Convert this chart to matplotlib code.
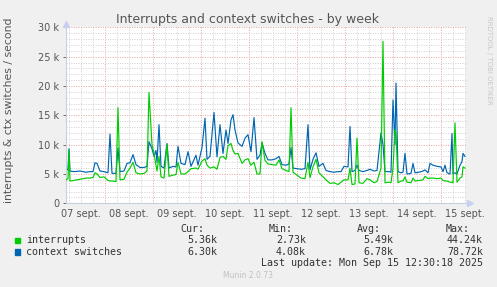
import matplotlib
matplotlib.use('Agg')
import matplotlib.pyplot as plt

# hours since 07 sept. 00:00
hours = [4.5, 5.5, 6, 6.5, 8.5, 11.5, 14.5, 16.5, 18, 19, 20, 21.5, 23.5, 25.5, 26.5, 27.5,
         29.5, 30.5, 31.5, 33.5, 35, 36.5, 38, 39.5, 41.5, 43.5, 45, 46, 47.5, 48.5, 49.5, 50,
         51, 52, 53.5, 55, 56, 58, 59.5, 60.5, 62, 64, 65.5, 67, 69.5, 70.5, 72.5, 74, 75,
         76.5, 78.5, 80, 81.5, 83, 84.5, 85.5, 87, 88, 89, 90.5, 92.5, 94, 95.5, 97, 98.5,
         100, 101.5, 102.5, 104, 105.5, 107.5, 109.5, 111, 112.5, 114.5, 116, 117, 118, 120,
         122, 124, 125.5, 126.5, 128, 129.5, 131, 133, 134.5, 136.5, 138.5, 140.5, 142, 143.5,
         145.5, 146.5, 147.5, 149, 150, 151, 153, 155, 156.5, 158.5, 160, 162, 163, 164, 166,
         167, 168, 169, 169.5, 170.5, 172, 173, 174, 175, 177, 178, 179, 181, 183, 184, 185.5,
         186.5, 188, 190, 192, 193, 194, 195, 196.5, 197.5, 198, 199, 200, 201.5, 202.5, 203,
         204]

interrupts = [4.0, 4.2, 9.1, 3.8, 3.9, 4.1, 4.3, 4.3, 4.4, 5.2, 5.0, 4.4, 4.5, 3.9, 3.8, 3.8,
              3.7, 16.3, 4.0, 4.1, 5.3, 6.0, 7.0, 5.2, 5.0, 5.1, 5.5, 18.9, 10.0, 8.5, 6.5, 5.5,
              8.0, 4.5, 4.3, 10.0, 4.6, 4.8, 4.9, 7.0, 5.0, 5.0, 5.4, 5.9, 6.0, 5.8, 7.2, 7.6, 6.5,
              6.0, 6.2, 5.8, 7.8, 8.0, 7.5, 9.8, 10.2, 9.0, 8.4, 8.5, 6.8, 7.4, 7.6, 6.5, 7.0,
              5.0, 5.0, 10.5, 7.3, 6.7, 6.6, 6.5, 7.4, 5.9, 5.6, 5.4, 16.3, 5.3, 4.8,
              4.3, 4.2, 7.0, 4.4, 6.2, 7.5, 5.2, 4.5, 4.0, 3.4, 3.5, 3.2, 3.6, 4.0,
              4.0, 6.0, 3.2, 3.3, 11.1, 3.5, 3.4, 4.2, 4.0, 3.5, 3.7, 6.0, 27.6, 3.5, 3.6,
              3.5, 6.0, 12.5, 12.0, 3.5, 3.8, 3.8, 4.5, 3.6, 3.5, 4.3, 3.8, 3.9, 4.0, 4.6, 4.2,
              4.3, 4.3, 4.2, 4.3, 3.9, 3.8, 3.8, 3.6, 3.6, 3.5, 13.7, 3.6, 4.3, 4.5, 6.2,
              6.0]

ctx_switches = [5.6, 5.8, 9.3, 5.5, 5.4, 5.5, 5.3, 5.4, 5.4, 6.9, 6.8, 5.5, 5.4, 5.2, 11.8, 5.1,
                5.1, 9.4, 5.4, 5.5, 6.8, 6.9, 8.3, 6.6, 6.1, 6.1, 6.3, 10.5, 9.3, 8.0, 9.0, 7.0,
                13.4, 6.3, 6.0, 10.2, 6.0, 6.3, 6.2, 9.7, 6.8, 6.6, 8.8, 6.3, 8.2, 6.5, 9.5, 14.5, 7.5,
                8.0, 15.5, 7.9, 13.4, 8.5, 12.5, 10.2, 14.2, 15.1, 12.5, 10.3, 9.7, 11.1, 11.7, 8.8, 14.6,
                7.5, 8.2, 10.3, 8.5, 7.4, 7.4, 7.6, 8.0, 6.6, 6.5, 6.7, 9.5, 6.0, 5.9,
                5.8, 5.9, 13.4, 5.7, 7.5, 8.6, 6.3, 6.8, 5.6, 5.4, 5.3, 5.4, 5.4, 6.3,
                6.2, 13.1, 5.4, 5.6, 6.5, 5.6, 5.4, 5.6, 5.8, 5.5, 5.6, 12.0, 10.0, 5.4, 5.4,
                5.3, 17.6, 10.0, 20.5, 5.4, 5.2, 5.3, 8.5, 5.0, 5.1, 6.8, 5.2, 5.3, 5.5, 5.7, 5.2,
                6.8, 6.5, 6.3, 6.2, 5.4, 6.5, 5.2, 5.0, 11.9, 5.0, 5.2, 5.0, 6.5, 7.1, 8.5,
                8.0]

day_labels = ['07 sept.', '08 sept.', '09 sept.', '10 sept.', '11 sept.',
              '12 sept.', '13 sept.', '14 sept.', '15 sept.']
series_names = ['interrupts', 'context switches']
series_colors = ['#00CC00', '#0066B3']
cur_vals = ['5.36k', '6.30k']
min_vals = ['2.73k', '4.08k']
avg_vals = ['5.49k', '6.78k']
max_vals = ['44.24k', '78.72k']

W, H = 497, 287
fig = plt.figure(figsize=(W / 100, H / 100), dpi=100, facecolor='#F0F0F0')
ax = fig.add_axes([66 / W, 1 - 203.3 / H, 400 / W, 176 / H])
ax.set_facecolor('white')


def px(x, y):
    return x / W, 1 - y / H


# grid: every 6 h / 1 k grey, every day / 5 k red
for h in range(6, 205, 6):
    c = '#E8A0A0' if h % 24 == 0 else '#D0D0D0'
    ax.axvline(h, color=c, lw=0.7, ls=(0, (1, 1.5)), zorder=1)
for v in range(1, 31):
    c = '#E8A0A0' if v % 5 == 0 else '#D0D0D0'
    ax.axhline(v * 1000, color=c, lw=0.7, ls=(0, (1, 1.5)), zorder=1)

ax.plot(hours, [v * 1000 for v in interrupts], color=series_colors[0], lw=0.85, zorder=3)
ax.plot(hours, [v * 1000 for v in ctx_switches], color=series_colors[1], lw=0.85, zorder=2)

ax.set_xlim(4.5, 204.5)
ax.set_ylim(0, 30000)
ax.set_yticks(range(0, 30001, 5000))
ax.set_yticklabels(['0'] + [f'{v} k' for v in range(5, 31, 5)])
ax.set_xticks([12 + 24 * i for i in range(len(day_labels))])
ax.set_xticklabels(day_labels)
ax.tick_params(axis='both', labelsize=7, colors='#555555', length=2, width=0.6, pad=3)
ax.tick_params(axis='x', length=0, pad=4)

for s in ['top', 'right']:
    ax.spines[s].set_visible(False)
ax.spines['left'].set_color('#C8D0E0')
ax.spines['bottom'].set_color('#C8D0E0')

# axis arrows
ax.plot([0], [1.02], marker='^', color='#C8D0F0', ms=4, transform=ax.transAxes, clip_on=False)
ax.plot([1.01], [0], marker='>', color='#C8D0F0', ms=4, transform=ax.transAxes, clip_on=False)

fig.text(*px(248, 19), 'Interrupts and context switches - by week', ha='center', va='center',
         fontsize=9, color='#555555')
fig.text(*px(9, 110), 'interrupts & ctx switches / second', rotation=90, ha='center',
         va='center', fontsize=7.8, color='#555555')
fig.text(*px(489, 60), 'RRDTOOL / TOBI OETIKER', rotation=270, ha='center', va='center',
         fontsize=5, color='#C8C8C8')

mono = dict(family='DejaVu Sans Mono', fontsize=7.2, color='#333333', va='center')
for hdr, xr in zip(['Cur:', 'Min:', 'Avg:', 'Max:'], [204, 293, 381, 470]):
    fig.text(*px(xr, 228.5), hdr, ha='right', **mono)
cols = [(cur_vals, 217), (min_vals, 306), (avg_vals, 393), (max_vals, 483)]
for i, name in enumerate(series_names):
    y = 240 + i * 11.7
    fig.patches.append(plt.Rectangle(px(14.5, y + 3), 5.5 / W, 5.5 / H,
                                     transform=fig.transFigure, color=series_colors[i]))
    fig.text(*px(26.5, y), name, ha='left', **mono)
    for vals, xr in cols:
        fig.text(*px(xr, y), vals[i], ha='right', **mono)
fig.text(*px(483, 263), 'Last update: Mon Sep 15 12:30:18 2025', ha='right', **mono)
fig.text(*px(248, 276), 'Munin 2.0.73', ha='center', va='center', fontsize=5.5, color='#C0C0C0')

fig.savefig('out.png', dpi=100, facecolor=fig.get_facecolor())
